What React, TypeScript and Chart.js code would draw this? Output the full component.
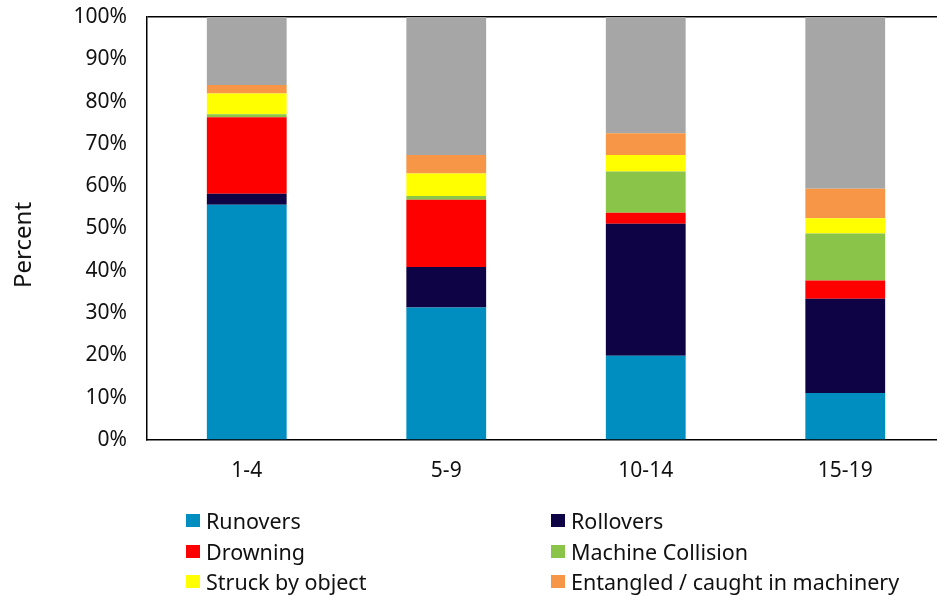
import React, { useEffect, useRef } from "react";
import { Chart, registerables } from "chart.js";

Chart.register(...registerables);

const categories = ["1-4", "5-9", "10-14", "15-19"];
const runovers = [55.6, 31.3, 19.9, 11.1];
const rollovers = [2.6, 9.6, 31.2, 22.3];
const drowning = [18.1, 15.9, 2.6, 4.3];
const machineCollision = [0.7, 0.9, 9.8, 11.1];
const struckByObject = [4.9, 5.3, 3.9, 3.6];
const entangled = [2.0, 4.4, 5.1, 7.0];
const other = [16.1, 32.6, 27.5, 40.6];

const seriesNames = [
  "Runovers",
  "Rollovers",
  "Drowning",
  "Machine Collision",
  "Struck by object",
  "Entangled / caught in machinery",
  "Other",
];
const seriesColors = ["#008DC0", "#0E0344", "#FF0000", "#8AC449", "#FFFF00", "#F79646", "#A6A6A6"];
const seriesValues = [runovers, rollovers, drowning, machineCollision, struckByObject, entangled, other];
const legendOrder = [0, 1, 2, 3, 4, 5];

const FONT = "'Noto Sans', sans-serif";
const TEXT = "#111";

export default function App() {
  const ref = useRef<HTMLCanvasElement | null>(null);

  useEffect(() => {
    if (!ref.current) return;
    const chart = new Chart(ref.current, {
      type: "bar",
      data: {
        labels: categories,
        datasets: seriesValues.map((vals, i) => ({
          label: seriesNames[i],
          data: vals,
          backgroundColor: seriesColors[i],
          borderWidth: 0,
          categoryPercentage: 1,
          barPercentage: 0.4,
        })),
      },
      options: {
        animation: false,
        responsive: false,
        devicePixelRatio: 1,
        layout: { padding: { top: 17, left: 0, right: 0, bottom: 0 } },
        plugins: { legend: { display: false }, tooltip: { enabled: false } },
        scales: {
          x: {
            stacked: true,
            grid: { display: false, drawTicks: false },
            border: { display: true, color: "#000", width: 1.5 },
            ticks: { font: { family: FONT, size: 21 }, color: TEXT, padding: 18 },
            afterFit: (s: any) => {
              s.height = 156;
              s.paddingLeft = 0;
              s.paddingRight = 0;
            },
          },
          y: {
            stacked: true,
            min: 0,
            max: 100,
            grid: {
              drawTicks: false,
              lineWidth: 1.5,
              color: (ctx: any) => (ctx.tick && ctx.tick.value === 100 ? "#000" : "rgba(0,0,0,0)"),
            },
            border: { display: true, color: "#000", width: 1.5 },
            ticks: {
              stepSize: 10,
              font: { family: FONT, size: 21 },
              color: TEXT,
              padding: 20,
              callback: (v: any) => v + "%",
            },
            afterFit: (s: any) => {
              s.width = 147;
              s.paddingTop = 0;
              s.paddingBottom = 0;
            },
          },
        },
      },
    });
    return () => chart.destroy();
  }, []);

  const rowCenters = [520.5, 551, 581];
  const colLefts = [186, 551];

  return (
    <div
      style={{
        position: "fixed",
        left: 0,
        top: 0,
        width: 937,
        height: 596,
        overflow: "hidden",
        background: "#fff",
        fontFamily: FONT,
      }}
    >
      <canvas ref={ref} width={945} height={596} style={{ position: "absolute", left: 0, top: 0 }} />
      <div
        style={{
          position: "absolute",
          left: 22,
          top: 245,
          transform: "translate(-50%, -50%) rotate(-90deg)",
          fontSize: 24,
          color: TEXT,
          whiteSpace: "nowrap",
          lineHeight: "30px",
        }}
      >
        Percent
      </div>
      {legendOrder.map((si, k) => {
        const row = Math.floor(k / 2);
        const col = k % 2;
        return (
          <div
            key={si}
            style={{
              position: "absolute",
              left: colLefts[col],
              top: rowCenters[row] - 15,
              height: 30,
              display: "flex",
              alignItems: "center",
              whiteSpace: "nowrap",
              fontSize: 21.5,
              color: TEXT,
            }}
          >
            <span
              style={{
                display: "inline-block",
                width: 14,
                height: 13,
                background: seriesColors[si],
                marginRight: 6,
              }}
            />
            <span>{seriesNames[si]}</span>
          </div>
        );
      })}
    </div>
  );
}
